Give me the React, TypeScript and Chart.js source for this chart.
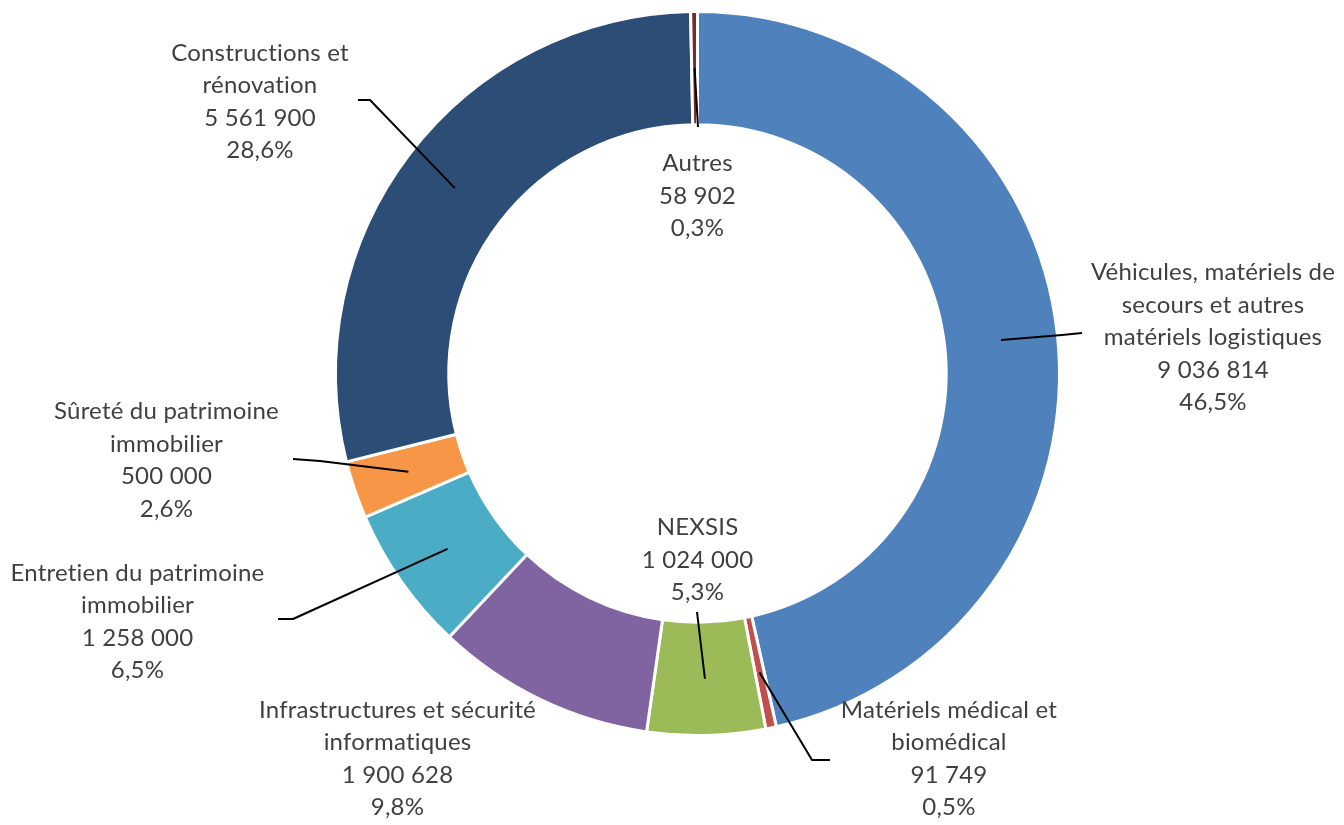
import React, { useEffect, useRef } from "react";
import { Chart, registerables } from "chart.js";

Chart.register(...registerables);

// ---- Data ----
const categories: string[] = [
  "Véhicules, matériels de secours et autres matériels logistiques",
  "Matériels médical et biomédical",
  "NEXSIS",
  "Infrastructures et sécurité informatiques",
  "Entretien du patrimoine immobilier",
  "Sûreté du patrimoine immobilier",
  "Constructions et rénovation",
  "Autres",
];

// how each category name is wrapped in its label
const categoryLines: string[][] = [
  ["Véhicules, matériels de", "secours et autres", "matériels logistiques"],
  ["Matériels médical et", "biomédical"],
  ["NEXSIS"],
  ["Infrastructures et sécurité", "informatiques"],
  ["Entretien du patrimoine", "immobilier"],
  ["Sûreté du patrimoine", "immobilier"],
  ["Constructions et", "rénovation"],
  ["Autres"],
];

const values: number[] = [9036814, 91749, 1024000, 1900628, 1258000, 500000, 5561900, 58902];

const colors: string[] = [
  "#4F81BD",
  "#C0504D",
  "#9BBB59",
  "#8064A2",
  "#4BACC6",
  "#F79646",
  "#2C4D75",
  "#772C2A",
];

// ---- Label layout (offsets from the doughnut centre, px) ----
type LabelLayout = { tx: number; ty: number; path: [number, number][] };
const labelLayout: LabelLayout[] = [
  { tx: 515.5, ty: -100.75, path: [[364.5, -38.5], [384.5, -40.5]] },
  { tx: 251.5, ty: 336.5, path: [[114.5, 386.5], [132.5, 386.5]] },
  { tx: 0, ty: 154, path: [[-0.5, 238.5]] },
  { tx: -300, ty: 336.5, path: [] },
  { tx: -560, ty: 199.75, path: [[-404.5, 245.5], [-419.5, 245.5]] },
  { tx: -531, ty: 38.25, path: [[-377.5, 87.5], [-404.5, 85.5]] },
  { tx: -437.5, ty: -320.25, path: [[-327.5, -273.5], [-339.5, -273.5]] },
  { tx: 0, ty: -210.2, path: [[0.5, -246.5]] },
];

const LINE_HEIGHT = 32.5;
const FONT = "24px Lato, 'Open Sans', sans-serif";
const TEXT_COLOR = "#404040";

const total = values.reduce((a, b) => a + b, 0);
const formatValue = (v: number) =>
  String(v).replace(/\B(?=(\d{3})+(?!\d))/g, " ");
const formatPercent = (v: number) =>
  ((v / total) * 100).toFixed(1).replace(".", ",") + "%";

const labelPlugin = {
  id: "outerLabels",
  afterDatasetsDraw(chart: any) {
    const ctx: any = chart.ctx;
    const meta = chart.getDatasetMeta(0);
    if (!meta || !meta.data.length) return;
    const first = meta.data[0];
    const cx = first.x;
    const cy = first.y;
    ctx.save();
    // leader lines
    ctx.strokeStyle = "#000000";
    ctx.lineWidth = 2;
    ctx.lineJoin = "round";
    meta.data.forEach((arc: any, i: number) => {
      const lay = labelLayout[i];
      if (!lay || !lay.path.length) return;
      const p = arc.getCenterPoint();
      ctx.beginPath();
      ctx.moveTo(p.x, p.y);
      lay.path.forEach(([dx, dy]) => ctx.lineTo(cx + dx, cy + dy));
      ctx.stroke();
    });
    // texts
    ctx.font = FONT;
    if ("letterSpacing" in ctx) ctx.letterSpacing = "0.2px";
    ctx.fillStyle = TEXT_COLOR;
    ctx.textAlign = "center";
    ctx.textBaseline = "middle";
    values.forEach((v, i) => {
      const lay = labelLayout[i];
      const lines = [...categoryLines[i], formatValue(v), formatPercent(v)];
      lines.forEach((line, k) => {
        ctx.fillText(line, cx + lay.tx, cy + lay.ty + k * LINE_HEIGHT);
      });
    });
    ctx.restore();
  },
};

export default function App() {
  const canvasRef = useRef<HTMLCanvasElement | null>(null);

  useEffect(() => {
    if (!canvasRef.current) return;
    const chart = new Chart(canvasRef.current, {
      type: "doughnut",
      data: {
        labels: categories,
        datasets: [
          {
            data: values,
            backgroundColor: colors,
            borderColor: "#ffffff",
            borderWidth: 3,
          },
        ],
      },
      options: {
        responsive: false,
        animation: false,
        cutout: "68.7%",
        layout: { padding: { left: 334, top: 10, right: 283, bottom: 88 } },
        plugins: {
          legend: { display: false },
          tooltip: { enabled: false },
        },
      },
      plugins: [labelPlugin],
    });
    return () => chart.destroy();
  }, []);

  return (
    <div
      style={{
        position: "fixed",
        left: 0,
        top: 0,
        width: 1344,
        height: 825,
        background: "#ffffff",
      }}
    >
      <canvas ref={canvasRef} width={1344} height={825} />
    </div>
  );
}
